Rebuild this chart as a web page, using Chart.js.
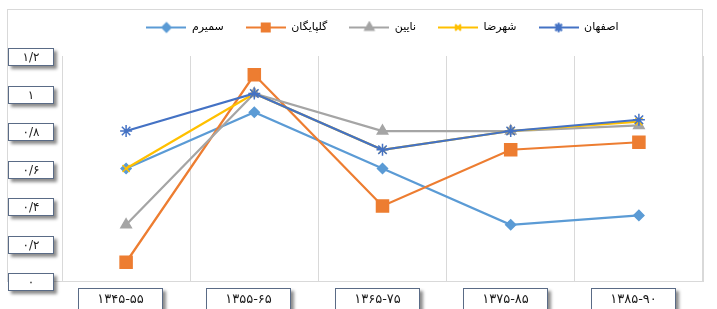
<!DOCTYPE html>
<html>
<head>
<meta charset="utf-8">
<script src="https://cdn.jsdelivr.net/npm/chart.js@4"></script>
<style>
  html, body { margin: 0; padding: 0; background: #fff; }
  #wrap { width: 717px; height: 309px; position: relative; }
</style>
</head>
<body>
<div id="wrap"><canvas id="c"></canvas></div>
<script>
// ---------- data ----------
const periods = ['۱۳۴۵-۵۵', '۱۳۵۵-۶۵', '۱۳۶۵-۷۵', '۱۳۷۵-۸۵', '۱۳۸۵-۹۰'];
const yTickLabels = ['۰', '۰/۲', '۰/۴', '۰/۶', '۰/۸', '۱', '۱/۲'];

const isfahan    = [0.80, 1.00, 0.70, 0.80, 0.86];
const shahreza   = [0.60, 1.00, 0.70, 0.80, 0.85];
const nain       = [0.30, 1.00, 0.80, 0.80, 0.83];
const golpayegan = [0.10, 1.10, 0.40, 0.70, 0.74];
const samirom    = [0.60, 0.90, 0.60, 0.30, 0.35];

const FONT = '"DejaVu Sans", sans-serif';

// line + marker swatch for the legend
const swatch = (color, style, radius) => {
  const cv = document.createElement('canvas');
  cv.width = 40; cv.height = 14;
  const ctx = cv.getContext('2d');
  ctx.strokeStyle = color;
  ctx.lineWidth = 2;
  ctx.beginPath(); ctx.moveTo(0, 7); ctx.lineTo(40, 7); ctx.stroke();
  Chart.helpers.drawPoint(ctx, { pointStyle: style, rotation: 0, borderWidth: 1.5, radius }, 20, 7);
  ctx.fillStyle = color;
  ctx.fill();
  ctx.stroke();
  return cv;
};

const series = [
  { label: 'اصفهان',   data: isfahan,    color: '#4472C4', style: 'star',      r: 6,   lr: 4.5 },
  { label: 'شهرضا',    data: shahreza,   color: '#FFC000', style: 'crossRot',  r: 5,   lr: 4 },
  { label: 'نایین',    data: nain,       color: '#A5A5A5', style: 'triangle',  r: 6,   lr: 4.5 },
  { label: 'گلپایگان', data: golpayegan, color: '#ED7D31', style: 'rect',      r: 8.5, lr: 5.5 },
  { label: 'سمیرم',    data: samirom,    color: '#5B9BD5', style: 'rectRot',   r: 5,   lr: 4 }
];

// ---------- plugins ----------
const drawBox = (ctx, x, y, w, h, text, size, spacing) => {
  ctx.save();
  ctx.shadowColor = 'rgba(0,0,0,0.45)';
  ctx.shadowBlur = 3;
  ctx.shadowOffsetX = 3;
  ctx.shadowOffsetY = 3;
  ctx.fillStyle = '#fff';
  ctx.fillRect(x, y, w, h);
  ctx.restore();
  ctx.save();
  ctx.strokeStyle = '#5a6b86';
  ctx.lineWidth = 1;
  ctx.strokeRect(x + 0.5, y + 0.5, w - 1, h - 1);
  ctx.fillStyle = '#1a1a1a';
  ctx.font = size + 'px ' + FONT;
  if ('letterSpacing' in ctx) ctx.letterSpacing = spacing;
  ctx.textAlign = 'center';
  ctx.textBaseline = 'middle';
  ctx.fillText(text, x + w / 2, y + h / 2 + 1);
  ctx.restore();
};

const frame = {
  id: 'frame',
  beforeInit(chart) {
    const fit = chart.legend.fit;
    chart.legend.fit = function () { fit.call(this); this.height = 56; };
  },
  beforeDraw(chart) {
    const { ctx } = chart;
    ctx.save();
    ctx.strokeStyle = '#d9d9d9';
    ctx.lineWidth = 1;
    ctx.strokeRect(7.5, 9.5, 695, 272);
    ctx.restore();
  },
  afterDraw(chart) {
    const { ctx } = chart;
    const ys = chart.scales.y;
    ys.ticks.forEach((t, i) => {
      const py = ys.getPixelForTick(i);
      drawBox(ctx, 8, Math.round(py) - 8, 46, 18, yTickLabels[i], 12, '1px');
    });
    const xs = chart.scales.x;
    xs.ticks.forEach((t, i) => {
      const px = xs.getPixelForTick(i);
      drawBox(ctx, Math.round(px) - 48, 288, 85, 22, periods[i], 13, '2px');
    });
  }
};

// ---------- chart ----------
new Chart(document.getElementById('c'), {
  type: 'line',
  data: {
    labels: periods,
    datasets: series.map(s => ({
      label: s.label,
      data: s.data,
      borderColor: s.color,
      backgroundColor: s.color,
      pointBackgroundColor: s.color,
      pointBorderColor: s.color,
      pointStyle: s.style,
      pointRadius: s.r,
      pointBorderWidth: 1.5,
      borderWidth: 2.25,
      tension: 0,
      fill: false
    }))
  },
  options: {
    responsive: true,
    maintainAspectRatio: false,
    animation: false,
    layout: { padding: { left: 62, right: 14, top: 0, bottom: 28 } },
    plugins: {
      tooltip: { enabled: false },
      legend: {
        position: 'top',
        reverse: true,
        labels: {
          usePointStyle: true,
          pointStyleWidth: 40,
          padding: 22,
          color: '#595959',
          font: { family: FONT, size: 11 },
          generateLabels(chart) {
            return series.map((s, i) => ({
              text: s.label,
              fillStyle: s.color,
              strokeStyle: s.color,
              lineWidth: 0,
              pointStyle: swatch(s.color, s.style, s.lr),
              datasetIndex: i,
              hidden: false
            }));
          }
        }
      }
    },
    scales: {
      x: {
        offset: true,
        ticks: { display: false },
        grid: { offset: true, color: '#d9d9d9', drawTicks: false },
        border: { display: true, color: '#d9d9d9' },
        afterFit(scale) { scale.height = 0; }
      },
      y: {
        min: 0,
        max: 1.2,
        ticks: { display: false, stepSize: 0.2 },
        grid: { display: false, drawTicks: false },
        border: { display: true, color: '#d9d9d9' },
        afterFit(scale) { scale.width = 0; }
      }
    }
  },
  plugins: [frame]
});
</script>
</body>
</html>
